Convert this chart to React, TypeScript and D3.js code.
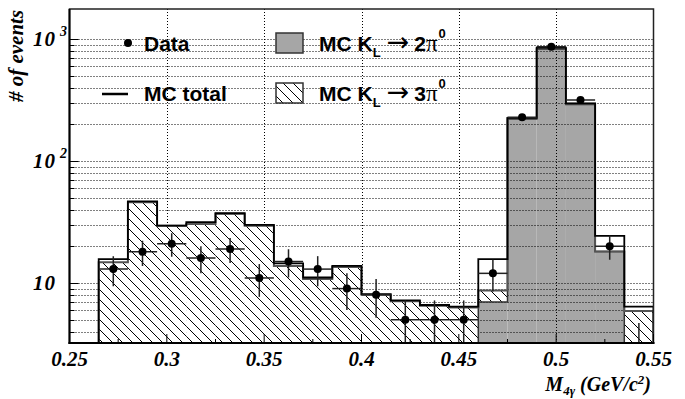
import { useEffect, useRef } from 'react'
import * as d3 from 'd3'

// bin lower edges (GeV/c^2), width 0.015
const binLow = [0.265, 0.28, 0.295, 0.31, 0.325, 0.34, 0.355, 0.37, 0.385, 0.4, 0.415, 0.43, 0.445, 0.46, 0.475, 0.49, 0.505, 0.52, 0.535]
const binWidth = 0.015

const dataVals = [13, 18, 21, 16, 19, 11, 15, 13, 9, 8, 5, 5, 5, 12, 228, 865, 316, 20, 3]
const dataErr  = [3.6, 4.2, 4.6, 4.0, 4.4, 3.3, 3.9, 3.6, 3.0, 2.8, 2.2, 2.2, 2.2, 3.5, 15, 29, 18, 4.5, 1.7]
const mcTotal  = [15.7, 46.7, 29.5, 31.6, 37.3, 30, 14.5, 11.1, 13.8, 8.1, 7.2, 6.6, 6.4, 15.7, 226, 849, 297, 24.3, 6.4]
const mc2pi    = [0, 0, 0, 0, 0, 0, 0, 0, 0, 0, 0, 0, 0, 7.0, 221, 824, 291, 18.1, 0]
const mc3pi    = [14.8, 46, 29.5, 30.5, 37, 29.5, 13.8, 10.8, 13.5, 8.0, 7.1, 6.5, 6.3, 1.7, 3, 10, 4, 0, 5.9]

const xMajor = [0.25, 0.3, 0.35, 0.4, 0.45, 0.5, 0.55]
const xMajorLabels = ['0.25', '0.3', '0.35', '0.4', '0.45', '0.5', '0.55']
const xMinor = [0.275, 0.325, 0.375, 0.425, 0.475, 0.525]
const yDecades = [10, 100, 1000]
const yDecadeExp = ['', '2', '3']

const GRAY = '#a6a6a6'
const SERIF = '"Liberation Serif", "Times New Roman", serif'
const SANS = '"Liberation Sans", Arial, sans-serif'

export default function App() {
  const svgRef = useRef<SVGSVGElement>(null)

  useEffect(() => {
    if (!svgRef.current) return
    const svg = d3.select(svgRef.current)
    svg.selectAll('*').remove()

    const W = 685, H = 399
    const m = { l: 69.5, r: 653.5, t: 9, b: 343 }
    svg.attr('width', W).attr('height', H)

    const x = d3.scaleLinear().domain([0.25, 0.55]).range([m.l, m.r])
    const y = d3.scaleLog().domain([3.223, 1762]).range([m.b, m.t])
    const yp = (v: number) => v > 0 ? y(v) : m.b + 2

    const defs = svg.append('defs')
    defs.append('clipPath').attr('id', 'frame')
      .append('rect').attr('x', m.l).attr('y', m.t).attr('width', m.r - m.l).attr('height', m.b - m.t)
    const hp = 10
    const pat = defs.append('pattern').attr('id', 'hatch').attr('patternUnits', 'userSpaceOnUse')
      .attr('width', hp).attr('height', hp)
    pat.append('rect').attr('width', hp).attr('height', hp).attr('fill', '#fff')
    ;[[-hp / 2, hp / 2, hp / 2, hp * 1.5], [0, 0, hp, hp], [hp / 2, -hp / 2, hp * 1.5, hp / 2]].forEach(([a, b, c, d]) =>
      pat.append('line').attr('x1', a).attr('y1', b).attr('x2', c).attr('y2', d)
        .attr('stroke', '#000').attr('stroke-width', 1))

    const bins = binLow.map((lo, i) => ({
      x0: x(lo), x1: x(lo + binWidth), c: x(lo + binWidth / 2),
      g: mc2pi[i], s: mc2pi[i] + mc3pi[i], tot: mcTotal[i], d: dataVals[i], e: dataErr[i]
    }))

    // mask so the grid is hidden under the hatched fill
    const mask = defs.append('mask').attr('id', 'gridmask')
    mask.append('rect').attr('width', W).attr('height', H).attr('fill', '#fff')
    bins.forEach(b => {
      if (b.s - b.g <= 0) return
      mask.append('rect').attr('x', b.x0).attr('width', b.x1 - b.x0)
        .attr('y', yp(b.s)).attr('height', yp(b.g) - yp(b.s)).attr('fill', '#000')
    })

    const g = svg.append('g').attr('clip-path', 'url(#frame)')

    // hatched (3pi0, stacked on top of 2pi0)
    bins.forEach(b => {
      if (b.s - b.g <= 0) return
      g.append('rect').attr('x', b.x0).attr('width', b.x1 - b.x0)
        .attr('y', yp(b.s)).attr('height', yp(b.g) - yp(b.s)).attr('fill', 'url(#hatch)')
    })
    // gray (2pi0)
    bins.forEach(b => {
      if (b.g <= 0) return
      g.append('rect').attr('x', b.x0).attr('width', b.x1 - b.x0)
        .attr('y', yp(b.g)).attr('height', m.b + 2 - yp(b.g)).attr('fill', GRAY)
    })

    // grid
    const grid = g.append('g').attr('mask', 'url(#gridmask)')
      .attr('stroke', '#000').attr('stroke-width', 1).attr('stroke-dasharray', '1,2')
    y.ticks().forEach(t => {
      grid.append('line').attr('x1', m.l).attr('x2', m.r).attr('y1', Math.round(y(t)) + 0.5).attr('y2', Math.round(y(t)) + 0.5)
    })
    xMajor.slice(1, -1).forEach(t => {
      grid.append('line').attr('y1', m.t).attr('y2', m.b).attr('x1', Math.round(x(t)) + 0.5).attr('x2', Math.round(x(t)) + 0.5)
    })

    // step outlines
    const step = (vals: number[]) => {
      let p = `M${bins[0].x0},${m.b + 2}`
      bins.forEach((b, i) => { p += `L${b.x0},${yp(vals[i])}L${b.x1},${yp(vals[i])}` })
      return p + `L${bins[bins.length - 1].x1},${m.b + 2}`
    }
    g.append('path').attr('d', step(bins.map(b => b.g))).attr('fill', 'none').attr('stroke', '#333').attr('stroke-width', 1.5)
    g.append('path').attr('d', step(bins.map(b => b.s))).attr('fill', 'none').attr('stroke', '#555').attr('stroke-width', 2)
    g.append('path').attr('d', step(mcTotal)).attr('fill', 'none').attr('stroke', '#000').attr('stroke-width', 1.8)

    // data points
    bins.forEach(b => {
      const lo = b.d - b.e
      g.append('line').attr('x1', b.c).attr('x2', b.c).attr('y1', yp(b.d + b.e)).attr('y2', lo > 0 ? y(lo) : m.b + 2)
        .attr('stroke', '#222').attr('stroke-width', 1.5)
      g.append('line').attr('x1', b.x0).attr('x2', b.x1).attr('y1', yp(b.d)).attr('y2', yp(b.d))
        .attr('stroke', '#222').attr('stroke-width', 1.5)
      g.append('circle').attr('cx', b.c).attr('cy', yp(b.d)).attr('r', 4).attr('fill', '#000')
    })

    // frame + ticks
    svg.append('rect').attr('x', m.l).attr('y', m.t).attr('width', m.r - m.l).attr('height', m.b - m.t)
      .attr('fill', 'none').attr('stroke', '#222').attr('stroke-width', 1.5)
    svg.append('line').attr('x1', m.l).attr('x2', m.l).attr('y1', m.t).attr('y2', m.b + 1).attr('stroke', '#000').attr('stroke-width', 2)
    svg.append('line').attr('x1', m.l - 1).attr('x2', m.r + 1).attr('y1', m.b).attr('y2', m.b).attr('stroke', '#000').attr('stroke-width', 2)
    y.ticks().forEach(t => {
      const major = yDecades.includes(t)
      svg.append('line').attr('x1', m.l).attr('x2', m.l + (major ? 9 : 5))
        .attr('y1', Math.round(y(t)) + 0.5).attr('y2', Math.round(y(t)) + 0.5).attr('stroke', '#000').attr('stroke-width', 1)
    })
    xMajor.forEach(t => svg.append('line').attr('x1', x(t)).attr('x2', x(t)).attr('y1', m.b).attr('y2', m.b - 9)
      .attr('stroke', '#000').attr('stroke-width', 1))
    xMinor.forEach(t => svg.append('line').attr('x1', x(t)).attr('x2', x(t)).attr('y1', m.b).attr('y2', m.b - 4)
      .attr('stroke', '#000').attr('stroke-width', 1))

    // tick labels
    xMajor.forEach((t, i) => svg.append('text').attr('x', x(t)).attr('y', 366).attr('text-anchor', 'middle')
      .attr('font-family', SERIF).attr('font-weight', 'bold').attr('font-style', 'italic').attr('font-size', 21)
      .text(xMajorLabels[i]))
    yDecades.forEach((t, i) => {
      const tx = svg.append('text').attr('x', 33).attr('y', y(t) + 7)
        .attr('font-family', SERIF).attr('font-weight', 'bold').attr('font-style', 'italic').attr('font-size', 21)
      tx.append('tspan').attr('letter-spacing', 1).text('10')
      if (yDecadeExp[i]) tx.append('tspan').attr('dx', 4).attr('dy', -10).attr('font-size', 14).text(yDecadeExp[i])
    })

    // axis titles
    svg.append('text').attr('transform', 'translate(23,56) rotate(-90)').attr('text-anchor', 'middle')
      .attr('font-family', SERIF).attr('font-weight', 'bold').attr('font-style', 'italic').attr('font-size', 21)
      .text('# of events')
    const xt = svg.append('text').attr('x', 651).attr('y', 391).attr('text-anchor', 'end')
      .attr('font-family', SERIF).attr('font-weight', 'bold').attr('font-style', 'italic').attr('font-size', 20)
    xt.append('tspan').text('M')
    xt.append('tspan').attr('dy', 4).attr('font-size', 13).text('4γ')
    xt.append('tspan').attr('dy', -4).text(' (GeV/c')
    xt.append('tspan').attr('dy', -7).attr('font-size', 13).text('2')
    xt.append('tspan').attr('dy', 7).text(')')

    // legend
    const lg = svg.append('g').attr('font-family', SANS).attr('font-weight', 'bold').attr('font-size', 21)
    lg.append('circle').attr('cx', 128).attr('cy', 43).attr('r', 4).attr('fill', '#000')
    lg.append('text').attr('x', 144).attr('y', 51).text('Data')
    lg.append('line').attr('x1', 102).attr('x2', 128).attr('y1', 94).attr('y2', 94).attr('stroke', '#000').attr('stroke-width', 2.5)
    lg.append('text').attr('x', 144).attr('y', 101).text('MC total')
    lg.append('rect').attr('x', 276).attr('y', 33).attr('width', 27).attr('height', 20).attr('fill', GRAY).attr('stroke', '#333').attr('stroke-width', 1.5)
    lg.append('rect').attr('x', 276).attr('y', 83).attr('width', 27).attr('height', 20).attr('fill', 'url(#hatch)').attr('stroke', '#333').attr('stroke-width', 1.5)
    ;[['2', 51], ['3', 101]].forEach(([n, by]) => {
      const t = lg.append('text').attr('x', 319).attr('y', by as number)
      t.append('tspan').text('MC K')
      t.append('tspan').attr('dy', 6).attr('font-size', 13).text('L')
      t.append('tspan').attr('dy', -6).attr('dx', 6).attr('font-family', '"DejaVu Sans", sans-serif').attr('font-weight', 'normal').attr('font-size', 27).text('→')
      t.append('tspan').attr('dx', 5).text(n as string)
      t.append('tspan').attr('font-family', SERIF).attr('font-weight', 'normal').attr('font-size', 23).text('π')
      t.append('tspan').attr('dy', -13).attr('dx', 1).attr('font-size', 13).text('0')
    })
  }, [])

  return <svg ref={svgRef} style={{ position: 'absolute', left: 0, top: 0 }} />
}
